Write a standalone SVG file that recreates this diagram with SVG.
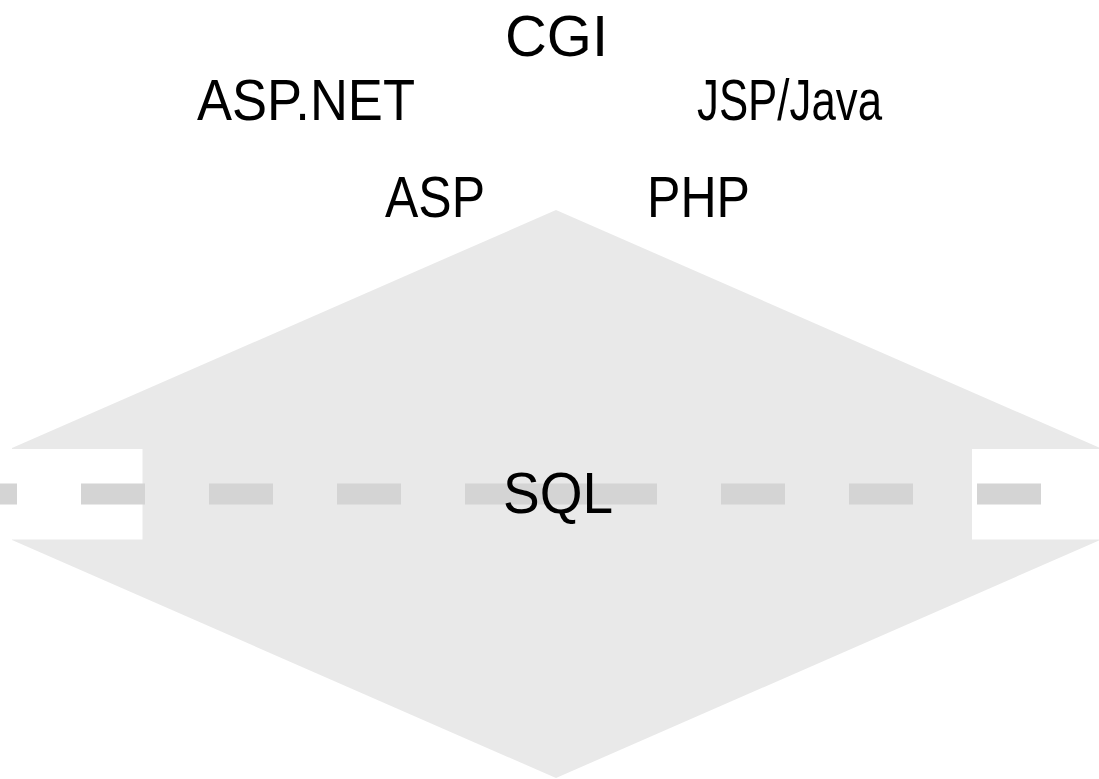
<svg xmlns="http://www.w3.org/2000/svg" width="1099" height="779" viewBox="0 0 1099 779">
<style>
.lbl{font-family:"Liberation Sans",Arial,sans-serif;font-size:58px;fill:#000}
.dash{fill:#d4d4d4}
</style>
<rect width="1099" height="779" fill="#fff"/>
<g id="sql-shape">
<polygon points="556,210 1100,448 1100,540 556,778 12,540 12,448" fill="#e9e9e9"/>
<rect x="0" y="449" width="142.5" height="90.5" fill="#fff"/>
<rect x="972" y="449" width="127" height="90.5" fill="#fff"/>
</g>
<g id="connectors">
<rect class="dash" x="0" y="483.5" width="17" height="21"/>
<rect class="dash" x="81" y="483.5" width="64" height="21"/>
<rect class="dash" x="209" y="483.5" width="64" height="21"/>
<rect class="dash" x="337" y="483.5" width="64" height="21"/>
<rect class="dash" x="465" y="483.5" width="192" height="21"/>
<rect class="dash" x="721" y="483.5" width="64" height="21"/>
<rect class="dash" x="849" y="483.5" width="64" height="21"/>
<rect class="dash" x="977" y="483.5" width="64" height="21"/>
</g>
<g id="cgi"><text class="lbl" x="505" y="56" textLength="103" lengthAdjust="spacingAndGlyphs">CGI</text></g>
<g id="aspnet"><text class="lbl" x="197" y="120" textLength="218" lengthAdjust="spacingAndGlyphs">ASP.NET</text></g>
<g id="jsp"><text class="lbl" x="697" y="120" textLength="185" lengthAdjust="spacingAndGlyphs">JSP/Java</text></g>
<g id="asp"><text class="lbl" x="385" y="217" textLength="100" lengthAdjust="spacingAndGlyphs">ASP</text></g>
<g id="php"><text class="lbl" x="647" y="217" textLength="103" lengthAdjust="spacingAndGlyphs">PHP</text></g>
<g id="sql"><text class="lbl" x="503" y="513" textLength="110" lengthAdjust="spacingAndGlyphs">SQL</text></g>
</svg>
